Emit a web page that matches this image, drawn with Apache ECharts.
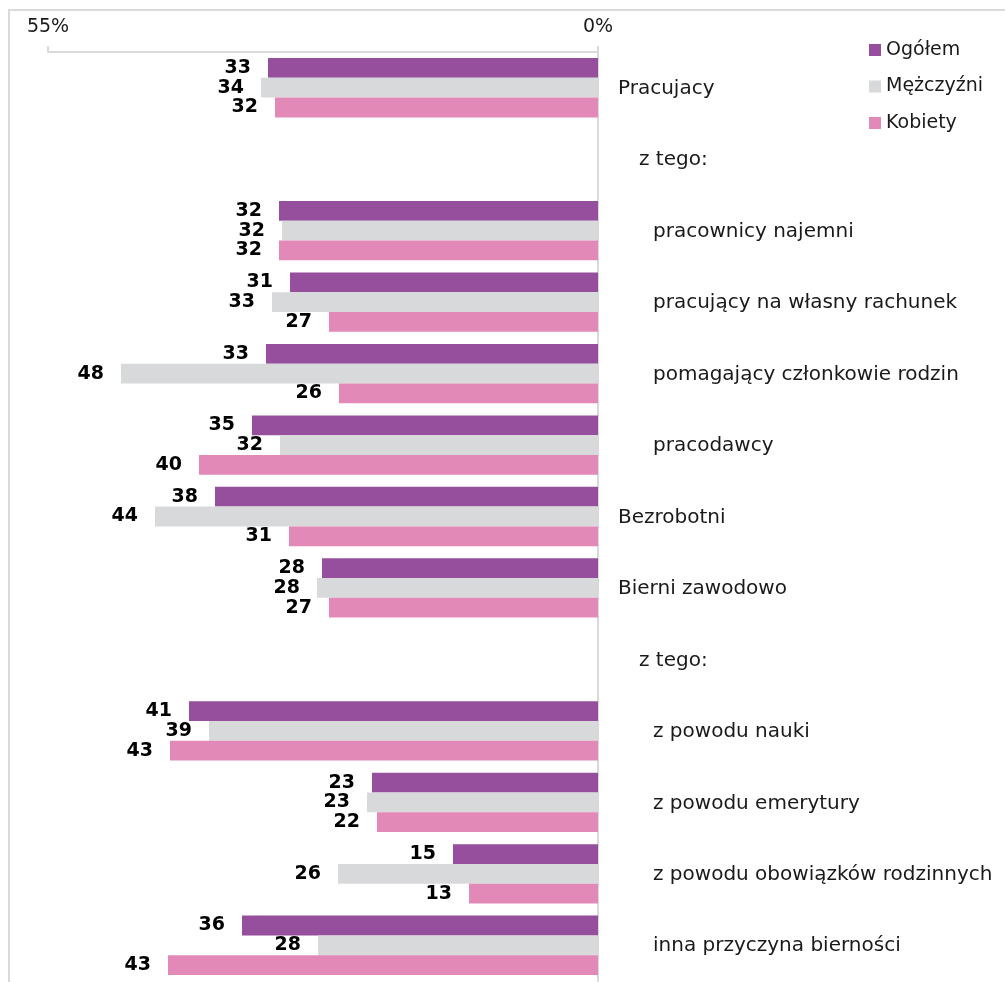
<!DOCTYPE html>
<html>
<head>
<meta charset="utf-8">
<script src="https://cdn.jsdelivr.net/npm/echarts@6/dist/echarts.min.js"></script>
<style>html,body{margin:0;padding:0;background:#fff;}#c{width:1005px;height:982px;}</style>
</head>
<body>
<div id="c"></div>
<script>
const categories = ['Pracujacy','z tego:','pracownicy najemni','pracujący na własny rachunek','pomagający członkowie rodzin','pracodawcy','Bezrobotni','Bierni zawodowo','z tego:','z powodu nauki','z powodu emerytury','z powodu obowiązków rodzinnych','inna przyczyna bierności'];
const indentLevels = [0,1,2,2,2,2,0,0,1,2,2,2,2];
const seriesNames = ['Ogółem','Mężczyźni','Kobiety'];
const ogolem =     [33.0, null, 31.9, 30.8, 33.2, 34.6, 38.3, 27.6, null, 40.9, 22.6, 14.5, 35.6];
const mezczyzni =  [33.7, null, 31.6, 32.6, 47.7, 31.8, 44.3, 28.1, null, 38.9, 23.1, 26.0, 28.0];
const kobiety =    [32.3, null, 31.9, 26.9, 25.9, 39.9, 30.9, 26.9, null, 42.8, 22.1, 12.9, 43.0];
const axisMin = 0, axisMax = 55;

const colors = ['#964f9c','#d8d9db','#e389b8'];
const FONT = 'DejaVu Sans';
const chart = echarts.init(document.getElementById('c'));
const mk = (name, data, color) => ({
  name, type: 'bar', data, barGap: '0%', barCategoryGap: '17%',
  itemStyle: {color},
  label: {show: true, position: 'left', distance: 17, color: '#000', fontWeight: 'bold', fontSize: 19, fontFamily: FONT,
    formatter: p => Math.round(p.value)},
  animation: false
});
chart.setOption({
  animation: false,
  textStyle: {fontFamily: FONT},
  color: colors,
  graphic: [{type: 'rect', shape: {x: 9, y: 10, width: 1100, height: 1100}, style: {fill: 'none', stroke: '#d9d9d9', lineWidth: 2}, silent: true}],
  legend: {
    orient: 'vertical', left: 869, top: 39, padding: 0, itemWidth: 12, itemHeight: 12, itemGap: 14.5,
    icon: 'rect',
    textStyle: {fontSize: 19, fontFamily: FONT, color: '#1a1a1a', lineHeight: 22, padding: [0,0,0,0]},
    data: seriesNames
  },
  grid: {left: 48, right: 407, top: 52, bottom: 1},
  xAxis: {
    type: 'value', inverse: true, position: 'top', min: axisMin, max: axisMax, interval: 55,
    axisLine: {show: true, lineStyle: {color: '#d9d9d9', width: 2}},
    axisTick: {show: true, length: 6, lineStyle: {color: '#d9d9d9', width: 2}},
    splitLine: {show: false},
    axisLabel: {formatter: '{value}%', fontSize: 19, color: '#1a1a1a', margin: 15, fontFamily: FONT}
  },
  yAxis: {
    type: 'category', inverse: true, position: 'right', data: categories,
    axisLine: {show: true, lineStyle: {color: '#d9d9d9', width: 2}},
    axisTick: {show: false},
    axisLabel: {
      margin: 20, align: 'left', color: '#1a1a1a', fontSize: 20, fontFamily: FONT,
      formatter: (v, i) => '{l' + indentLevels[i] + '|' + v + '}',
      rich: {
        l0: {fontSize: 20, fontFamily: FONT, color: '#1a1a1a', padding: [2,0,0,0]},
        l1: {fontSize: 20, fontFamily: FONT, color: '#1a1a1a', padding: [2,0,0,21]},
        l2: {fontSize: 20, fontFamily: FONT, color: '#1a1a1a', padding: [2,0,0,35]}
      }
    }
  },
  series: [mk(seriesNames[0], ogolem, colors[0]), mk(seriesNames[1], mezczyzni, colors[1]), mk(seriesNames[2], kobiety, colors[2])]
});
</script>
</body>
</html>
